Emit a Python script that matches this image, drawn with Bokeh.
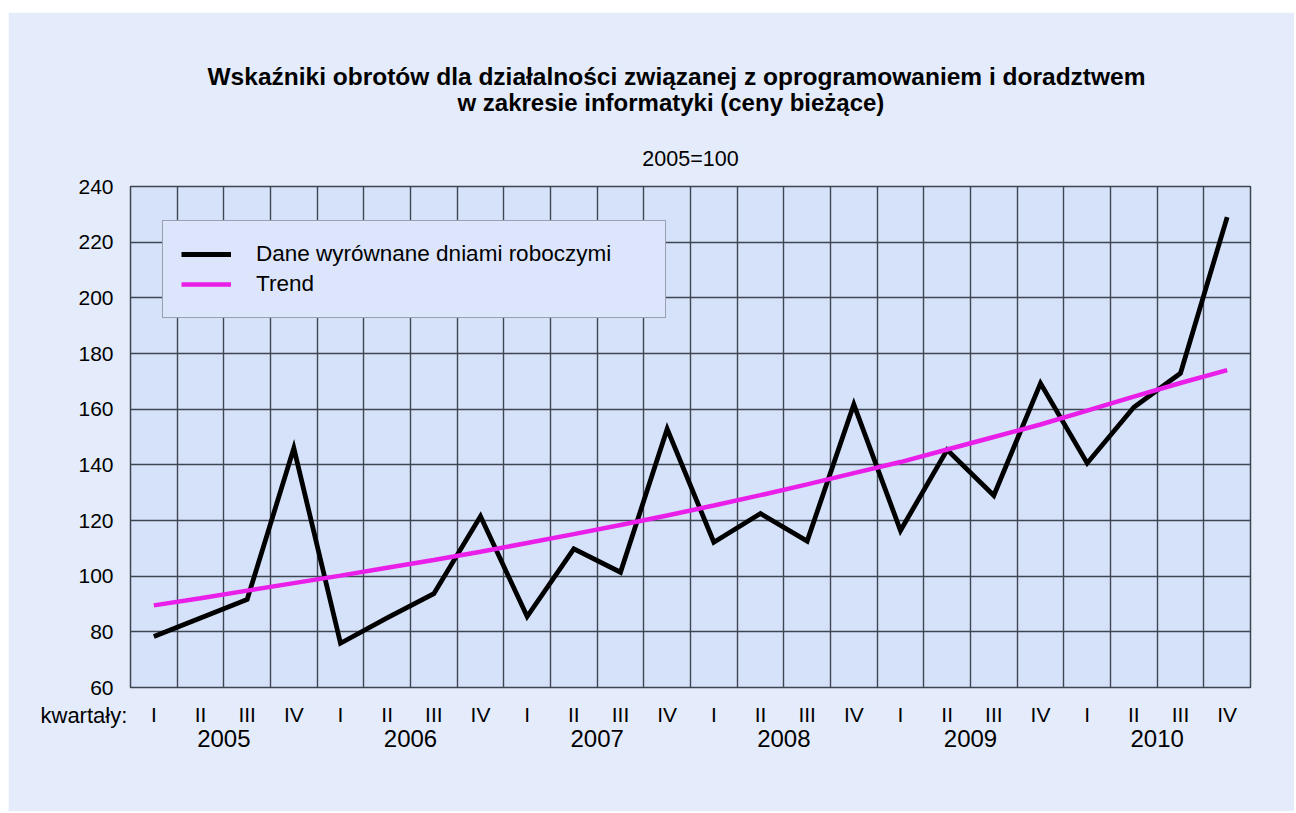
from bokeh.plotting import figure
from bokeh.models import Legend, LegendItem, FixedTicker, Range1d, LinearAxis, Title
from bokeh.embed import file_html
from bokeh.resources import INLINE

# ---- data ----
quarters = ["I", "II", "III", "IV"] * 6
years = ["2005", "2006", "2007", "2008", "2009", "2010"]
adjusted = [78.3, 85.0, 91.6, 146.0, 75.9, 85.0, 93.7, 121.5,
            85.5, 109.8, 101.4, 152.9, 112.2, 122.5, 112.6, 161.7,
            116.4, 145.4, 129.0, 169.3, 140.6, 160.7, 172.9, 229.0]
trend = [89.5, 92.1, 94.8, 97.5, 100.2, 103.0, 105.8, 108.8,
         111.9, 115.1, 118.4, 121.8, 125.4, 129.1, 133.0, 137.0,
         141.0, 145.5, 150.0, 154.5, 159.5, 164.5, 169.4, 174.0]
y_ticks = [60, 80, 100, 120, 140, 160, 180, 200, 220, 240]
title_lines = ["Wskaźniki obrotów dla działalności związanej z oprogramowaniem i doradztwem",
               "w zakresie informatyki (ceny bieżące)"]
subtitle = "2005=100"
quarter_caption = "kwartały:"
series_names = ["Dane wyrównane dniami roboczymi", "Trend"]

# ---- style ----
OUTER_BG = "#e4ebfb"
PLOT_BG = "#d6e2fa"
LEGEND_BG = "#dce5fb"
GRID = "#3e4652"
MAGENTA = "#e91ee9"
FONT = "Liberation Sans"

n = len(adjusted)
xs = [i + 0.5 for i in range(n)]

p = figure(width=1286, height=799, x_range=Range1d(0, n), y_range=Range1d(60, 240),
           output_backend="svg", toolbar_location=None,
           min_border_left=122, min_border_right=44, min_border_top=174, min_border_bottom=124,
           background_fill_color=PLOT_BG, border_fill_color=OUTER_BG,
           outline_line_color=GRID, outline_line_width=1.5)
p.margin = (12, 0, 0, 8)

# grid
p.xgrid.ticker = FixedTicker(ticks=list(range(1, n)))
p.ygrid.ticker = FixedTicker(ticks=y_ticks[1:-1])
for g in (p.xgrid, p.ygrid):
    g.grid_line_color = GRID
    g.grid_line_width = 1.4
    g.grid_line_alpha = 1

# quarter axis
p.xaxis.ticker = FixedTicker(ticks=xs)
p.xaxis.major_label_overrides = {x: q for x, q in zip(xs, quarters)}
p.yaxis.ticker = FixedTicker(ticks=y_ticks)

# year axis (second row below the quarters)
year_pos = [4 * k + 2 for k in range(len(years))]
year_axis = LinearAxis(ticker=FixedTicker(ticks=year_pos),
                       major_label_overrides={x: y for x, y in zip(year_pos, years)})
p.add_layout(year_axis, "below")

for ax in (p.xaxis[0], p.yaxis[0], year_axis):
    ax.axis_line_color = None
    ax.major_tick_line_color = None
    ax.minor_tick_line_color = None
    ax.major_tick_out = 0
    ax.major_tick_in = 0
    ax.major_label_text_font = FONT
    ax.major_label_text_color = "black"
p.xaxis[0].major_label_text_font_size = "21px"
p.xaxis[0].major_label_standoff = 15
year_axis.major_label_text_font_size = "24px"
year_axis.major_label_standoff = 1
p.yaxis.major_label_text_font_size = "21px"
p.yaxis.major_label_standoff = 17

# "kwartały:" caption left of the quarter row
p.add_layout(Title(text=quarter_caption, align="left", offset=-90, standoff=-94,
                   vertical_align="top", text_font=FONT, text_font_size="22px",
                   text_font_style="normal", text_color="black"), "below")

# titles: above panels stack outward from the frame; p.title is outermost
p.add_layout(Title(text=subtitle, align="center", standoff=31,
                   text_font=FONT, text_font_size="21.5px", text_font_style="normal",
                   text_color="black"), "above")
p.add_layout(Title(text=title_lines[1], align="left", offset=327, standoff=28,
                   text_font=FONT, text_font_size="24px", text_font_style="bold",
                   text_color="black"), "above")
p.title.text = title_lines[0]
p.title.align = "left"
p.title.offset = 77
p.title.standoff = -34
p.title.text_font = FONT
p.title.text_font_size = "24.5px"
p.title.text_font_style = "bold"
p.title.text_color = "black"

# lines
r1 = p.line(xs, adjusted, line_color="black", line_width=4.8, line_join="miter")
r2 = p.line(xs, trend, line_color=MAGENTA, line_width=4.5)

legend = Legend(items=[LegendItem(label=series_names[0], renderers=[r1]),
                       LegendItem(label=series_names[1], renderers=[r2])],
                location=(32, 369), padding=18, spacing=0, margin=0,
                glyph_width=50, glyph_height=30, label_height=30, label_width=391,
                label_standoff=25, label_text_font_size="22.5px", label_text_font=FONT,
                label_text_color="black",
                border_line_color="#555b66", border_line_width=1.5,
                background_fill_color=LEGEND_BG, background_fill_alpha=1)
p.add_layout(legend)

open("out.html", "w").write(file_html(p, INLINE))
